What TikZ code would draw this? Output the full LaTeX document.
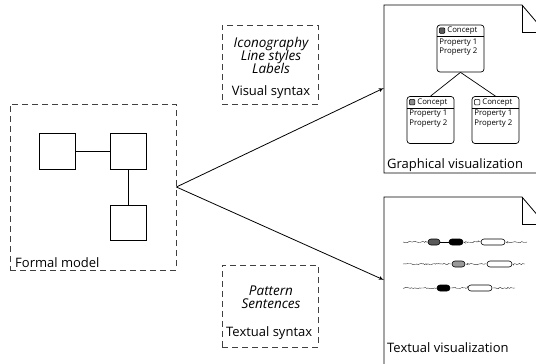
\documentclass[tikz,border=0pt]{standalone}
\usepackage{fontspec}
\setmainfont{Open Sans}
\usetikzlibrary{arrows,positioning,shapes.misc,decorations.pathmorphing}

\begin{document}
\begin{tikzpicture}[x=1pt,y=-1pt]
        \tikzset{syntax/.style = {draw=black!75,dash pattern=on 6pt off 4pt,line width=0.8pt,inner sep=0}}
        \tikzset{block/.style = {draw,line width=0.8pt,minimum width=36pt,minimum height=36pt,inner sep=0}}
        \tikzset{edge/.style = {->,> = latex',line width=0.8pt}}
        \tikzset{doc/.style = {draw,line width=0.8pt}}
        \tikzset{concept/.style = {draw,rounded corners=3pt,line width=0.7pt,minimum width=47pt,minimum height=47pt,inner sep=0}}
        \tikzset{icon/.style = {draw,rounded corners=1pt,line width=0.5pt,minimum size=5.5pt,inner sep=0}}
        \tikzset{tiny/.style = {font=\fontsize{7.8}{9.5}\selectfont,inner sep=0}}
        \tikzset{caption/.style = {font=\fontsize{13}{15}\selectfont,inner sep=0,anchor=base west}}
        \tikzset{hint/.style = {font=\fontsize{13.5}{15}\selectfont\itshape,inner sep=0,anchor=base}}
        \tikzset{pill/.style = {rounded rectangle,draw,line width=0.6pt,minimum height=6pt,inner sep=0}}
        \tikzset{wave/.style = {decorate,decoration={random steps,segment length=1.2pt,amplitude=0.7pt},line width=0.4pt,black!80}}

        \useasboundingbox (0,0) rectangle (536,364);

        % formal model
        \node[syntax,minimum width=166pt,minimum height=166pt] (formal) at (93,187) {};
        \node[caption] (formal-l) at (15,267) {Formal model};
        \node[block] (sq1) at (57,151) {};
        \node[block] (sq2) at (128,151) {};
        \node[block,minimum height=35pt] (sq3) at (128,222.5) {};
        \draw[line width=0.8pt] (sq1) -- (sq2);
        \draw[line width=0.8pt] (sq2) -- (sq3);

        % syntax boxes
        \node[syntax,minimum width=96pt,minimum height=79pt] (vis) at (270,64.5) {};
        \foreach \t/\y [count=\i] in {Iconography/47,Line styles/60,Labels/73}
            \node[hint] (vis-\i) at (271,\y) {\t};
        \node[caption,anchor=base] (vis-l) at (271,95) {Visual syntax};

        \node[syntax,minimum width=96pt,minimum height=82pt] (txt) at (270,306) {};
        \foreach \t/\y [count=\i] in {Pattern/295,Sentences/308}
            \node[hint] (txt-\i) at (271,\y) {\t};
        \node[caption] (txt-l) at (226,336) {Textual syntax};

        % documents
        \draw[doc] (384,5) -- (522,5) -- (545,32) -- (545,173) -- (384,173) -- cycle;
        \draw[doc] (522,5) |- (545,32);
        \node[caption] (gv-l) at (387,168) {Graphical visualization};

        \draw[doc] (384,197) -- (522,197) -- (545,224) -- (545,380) -- (384,380) -- cycle;
        \draw[doc] (522,197) |- (545,224);
        \node[caption] (tv-l) at (387,352) {Textual visualization};

        %edges
        \coordinate (gv-in) at (384,88);
        \coordinate (tv-in) at (384,280);
        \draw[edge] (formal.east) -- (gv-in);
        \draw[edge] (formal.east) -- (tv-in);

        % concepts
        \foreach \cx/\cy/\cn/\cf in {460.5/48.5/top/black!65,430.5/120/left/black!45,495.5/120/right/white}
        {
            \node[concept] (\cn) at (\cx,\cy) {};
            \draw[line width=0.6pt] ([yshift=-12pt]\cn.north west) -- ([yshift=-12pt]\cn.north east);
            \node[icon,fill=\cf] (\cn-i) at ([xshift=5.5pt,yshift=-6pt]\cn.north west) {};
            \node[tiny,anchor=west] (\cn-t) at ([xshift=2pt]\cn-i.east) {Concept};
            \node[tiny,anchor=north west,align=left] (\cn-p) at ([xshift=2.5pt,yshift=-14pt]\cn.north west) {Property 1\\Property 2};
        }
        \draw[line width=0.7pt] (top.south) -- (left.north);
        \draw[line width=0.7pt] (top.south) -- (right.north);

        % text lines
        \coordinate (r1s) at (403,242);
        \node[pill,fill=black!65,minimum width=12pt] (r1a) at (434,242) {};
        \node[pill,fill=black,minimum width=14pt] (r1b) at (456,242) {};
        \node[pill,fill=white,minimum width=24pt] (r1c) at (493,242) {};
        \coordinate (r1e) at (527,242);
        \draw[wave] (r1s) -- (r1a.west);
        \draw[line width=0.5pt] (r1a.east) -- (r1b.west);
        \draw[wave,shorten <=3pt,shorten >=3pt] (r1b.east) -- (r1c.west);
        \draw[wave,shorten <=3pt] (r1c.east) -- (r1e);

        \coordinate (r2s) at (403,264);
        \node[pill,fill=black!40,minimum width=13pt] (r2a) at (458.5,264) {};
        \node[pill,fill=white,minimum width=25pt] (r2b) at (499.5,264) {};
        \coordinate (r2e) at (525,264);
        \draw[wave,shorten >=1pt] (r2s) -- (r2a.west);
        \draw[wave,shorten <=3pt,shorten >=2pt] (r2a.east) -- (r2b.west);
        \draw[wave,shorten <=2pt] (r2b.east) -- (r2e);

        \coordinate (r3s) at (403,288);
        \node[pill,fill=black,minimum width=13pt] (r3a) at (443.5,288) {};
        \node[pill,fill=white,minimum width=24pt] (r3b) at (480,288) {};
        \coordinate (r3e) at (515,288);
        \draw[wave] (r3s) -- (r3a.west);
        \draw[wave,shorten <=3pt,shorten >=2pt] (r3a.east) -- (r3b.west);
        \draw[wave,shorten <=3pt] (r3b.east) -- (r3e);

    \end{tikzpicture}
\end{document}
